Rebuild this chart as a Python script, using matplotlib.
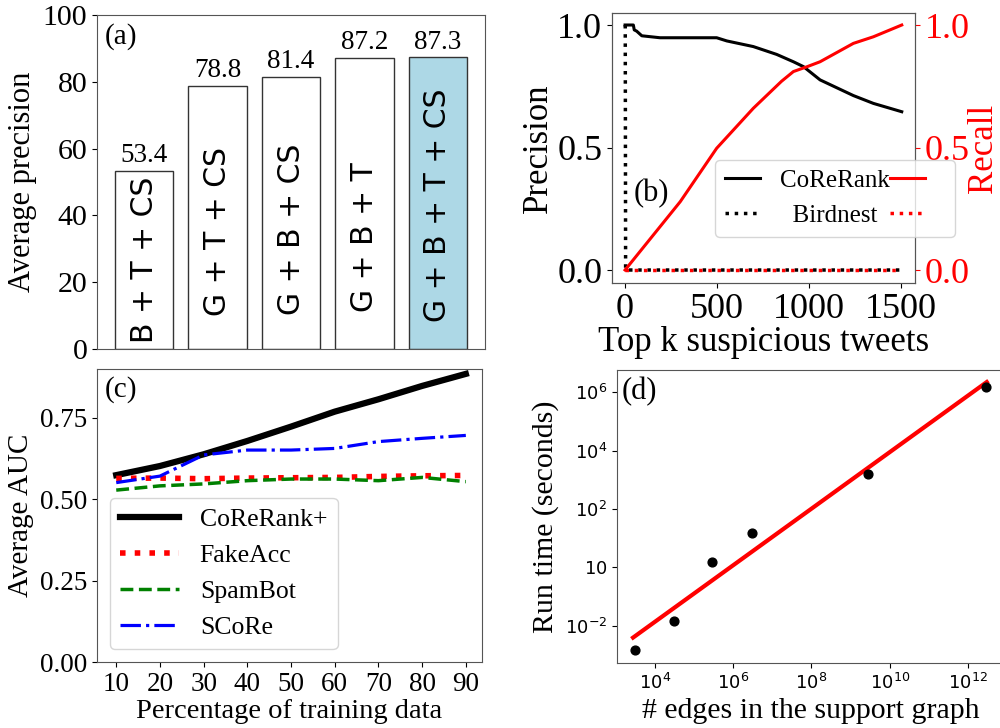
import numpy as np
import matplotlib
matplotlib.use("Agg")
import matplotlib.pyplot as plt

plt.rcParams['font.family'] = ['Liberation Serif', 'DejaVu Sans']
plt.rcParams['mathtext.fontset'] = 'dejavusans'

# ---------------- data ----------------
# (a)
feature_sets = ['B + T + CS', 'G + T + CS', 'G + B + CS', 'G + B + T', 'G + B + T + CS']
avg_precision = [53.4, 78.8, 81.4, 87.2, 87.3]

# (b)
cr_prec_k = [0, 45, 50, 63, 91, 190, 498, 553, 697, 824, 915, 970, 1060, 1241, 1350, 1504]
cr_precision = [1.0, 1.0, 0.98, 0.975, 0.956, 0.948, 0.948, 0.935, 0.912, 0.88, 0.85,
                0.83, 0.776, 0.712, 0.68, 0.646]
cr_rec_k = [0, 300, 498, 697, 850, 915, 990, 1060, 1241, 1350, 1504]
cr_recall = [0.0, 0.279, 0.497, 0.66, 0.77, 0.81, 0.83, 0.85, 0.925, 0.952, 1.0]
bn_k = [1, 3, 1500]
bn_precision = [1.0, 0.0, 0.0]
bn_recall = [0.0, 0.0, 0.0]

# (c)
train_pct = [10, 20, 30, 40, 50, 60, 70, 80, 90]
auc_corerank = [0.574, 0.602, 0.638, 0.679, 0.723, 0.769, 0.807, 0.848, 0.885]
auc_fakeacc = [0.564, 0.565, 0.563, 0.565, 0.566, 0.567, 0.570, 0.572, 0.573]
auc_spambot = [0.528, 0.541, 0.547, 0.557, 0.562, 0.562, 0.557, 0.567, 0.554]
auc_score = [0.551, 0.571, 0.636, 0.651, 0.651, 0.656, 0.677, 0.687, 0.696]

# (d)
n_edges = [3.1e3, 3.1e4, 2.95e5, 3.0e6, 2.8e9, 2.95e12]
run_time = [1.5e-3, 1.5e-2, 1.5, 15.5, 1550, 1.5e6]
d_yticks = [1e-2, 1, 1e2, 1e4, 1e6]
d_yticklabels = ['$10^{-2}$', '$10$', '$10^{2}$', '$10^{4}$', '$10^{6}$']
d_xticks = [1e4, 1e6, 1e8, 1e10, 1e12]
d_xticklabels = ['$10^{4}$', '$10^{6}$', '$10^{8}$', '$10^{10}$', '$10^{12}$']

# ---------------- figure ----------------
fig = plt.figure(figsize=(10, 7.28), dpi=100)
W, H = 1000.0, 728.0

def px_axes(l, t, r, b):
    return fig.add_axes([l / W, 1 - b / H, (r - l) / W, (b - t) / H])

spine_col = '#555555'

def style_spines(ax):
    for s in ax.spines.values():
        s.set_color(spine_col)

# ----- (a) -----
axa = px_axes(97, 15, 485, 349)
colors_a = ['white'] * 4 + ['#add8e6']
xa = np.arange(len(feature_sets))
axa.bar(xa, avg_precision, width=0.8, color=colors_a, edgecolor='#333333', linewidth=1.0)
for xi, v in zip(xa, avg_precision):
    axa.text(xi, v + 0.8, f'{v}', ha='center', va='bottom', fontsize=19.5)
inner_y = [26.6, 35.1, 35.8, 33.4, 43.1]
for xi, lab, yy in zip(xa, feature_sets, inner_y):
    axa.text(xi, yy, lab, rotation=90, ha='center', va='center', fontsize=21.5,
             family='DejaVu Sans')
axa.set_ylim(0, 100)
axa.set_yticks([0, 20, 40, 60, 80, 100])
axa.set_xticks([])
axa.tick_params(axis='y', labelsize=21.5)
axa.set_ylabel('Average precision', fontsize=22)
axa.text(0.02, 0.975, '(a)', transform=axa.transAxes, ha='left', va='top', fontsize=21)
style_spines(axa)

# ----- (b) -----
axb = px_axes(612, 13, 915, 283)
axb2 = axb.twinx()
l1, = axb.plot(cr_prec_k, cr_precision, color='black', lw=2.2)
l2, = axb.plot(bn_k, bn_precision, color='black', lw=2.5, ls=':')
l3, = axb2.plot(cr_rec_k, cr_recall, color='red', lw=2.2)
l4, = axb2.plot(bn_k, bn_recall, color='red', lw=2.5, ls=':')
for a in (axb, axb2):
    a.set_ylim(-0.053, 1.049)
    a.set_yticks([0.0, 0.5, 1.0])
axb.set_xlim(-71, 1576)
axb.set_xticks([0, 500, 1000, 1500])
axb.tick_params(axis='both', labelsize=26)
axb2.tick_params(axis='y', labelsize=26, colors='red')
axb.set_ylabel('Precision', fontsize=25, labelpad=2)
axb2.set_ylabel('Recall', fontsize=25, color='red', labelpad=-2)
axb.set_xlabel('Top k suspicious tweets', fontsize=25, labelpad=0)
axb.text(0.07, 0.33, '(b)', transform=axb.transAxes, ha='left', va='center', fontsize=22)
axb2.legend(handles=[l1, l2, l3, l4], labels=['CoReRank', '  Birdnest', '', ''], ncol=2,
            fontsize=18, loc='lower left', bbox_to_anchor=(0.34, 0.17), borderaxespad=0,
            columnspacing=0.0, handletextpad=0.8, handlelength=1.4)
style_spines(axb)
style_spines(axb2)

# ----- (c) -----
axc = px_axes(97, 369, 482, 662)
axc.plot(train_pct, auc_corerank, color='black', lw=4.5, label='CoReRank+')
axc.plot(train_pct, auc_fakeacc, color='red', lw=4, ls=':', label='FakeAcc')
axc.plot(train_pct, auc_spambot, color='green', lw=2.5, ls='--', label='SpamBot')
axc.plot(train_pct, auc_score, color='blue', lw=2.3, ls='-.', label='SCoRe')
axc.set_ylim(0, 0.9)
axc.set_xlim(5.6, 93.7)
axc.set_yticks([0.0, 0.25, 0.5, 0.75])
axc.set_xticks(train_pct)
axc.tick_params(axis='both', labelsize=19.5)
axc.set_ylabel('Average AUC', fontsize=21)
axc.set_xlabel('Percentage of training data', fontsize=20.5, labelpad=2)
axc.legend(loc='lower left', fontsize=18.5, handlelength=2.3, borderaxespad=0.5)
axc.text(0.02, 0.975, '(c)', transform=axc.transAxes, ha='left', va='top', fontsize=21)
style_spines(axc)

# ----- (d) -----
axd = px_axes(617, 370, 1004, 663)
axd.set_xscale('log')
axd.set_yscale('log')
lx = np.log10(n_edges)
ly = np.log10(run_time)
slope, icpt = np.polyfit(lx, ly, 1)
fit_x = np.array([10 ** 3.44, 10 ** 12.48])
fit_y = 10 ** (icpt + slope * np.log10(fit_x))
axd.plot(fit_x, fit_y, color='red', lw=3)
axd.scatter(n_edges, run_time, color='black', s=40, zorder=3)
axd.set_xlim(10 ** 3.03, 10 ** 12.92)
axd.set_ylim(10 ** -3.28, 10 ** 6.76)
axd.set_xticks(d_xticks)
axd.set_xticklabels(d_xticklabels)
axd.set_yticks(d_yticks)
axd.set_yticklabels(d_yticklabels)
axd.minorticks_off()
axd.tick_params(axis='both', labelsize=13)
axd.set_ylabel('Run time (seconds)', fontsize=21.5)
axd.set_xlabel('# edges in the support graph', fontsize=21.5, labelpad=4)
axd.text(0.013, 0.975, '(d)', transform=axd.transAxes, ha='left', va='top', fontsize=22)
style_spines(axd)

fig.savefig('out.png', dpi=100)
